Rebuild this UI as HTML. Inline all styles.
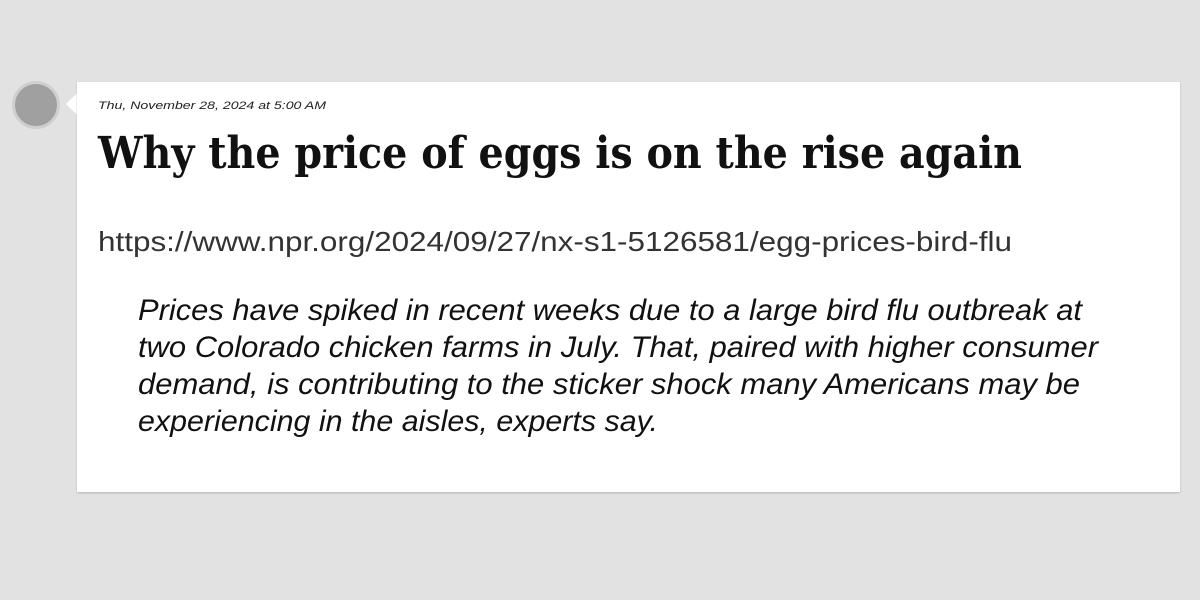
<!DOCTYPE html>
<html><head><meta charset="utf-8">
<style>
body{margin:0;width:1200px;height:600px;background:#e2e2e2;position:relative;overflow:hidden;font-family:"Liberation Sans",sans-serif}
.avatar{position:absolute;left:12px;top:81px;width:42px;height:42px;border-radius:50%;background:#a0a0a0;border:3px solid #cfcfcf}
.card{position:absolute;left:77px;top:82px;width:1103px;height:410px;background:#fff;box-shadow:0 1px 2px rgba(0,0,0,0.2)}
.notch{position:absolute;left:66px;top:93px;width:0;height:0;border-top:11px solid transparent;border-bottom:11px solid transparent;border-right:11px solid #fff}
.t{position:absolute;white-space:nowrap;transform-origin:0 0;line-height:1}
</style></head><body>
<div class="avatar"></div>
<div class="notch"></div>
<div class="card"></div>
<div class="t fit" data-w="228" style="left:98px;top:101px;font-size:11px;font-style:italic;color:#222">Thu, November 28, 2024 at 5:00 AM</div>
<div class="t fit" data-w="924" style="left:98px;top:132px;font-size:44px;font-weight:bold;font-family:'DejaVu Serif',serif;color:#111">Why the price of eggs is on the rise again</div>
<div class="t fit" data-w="914" style="left:98px;top:228px;font-size:28px;color:#333">https://www.npr.org/2024/09/27/nx-s1-5126581/egg-prices-bird-flu</div>
<div class="t fit" data-w="944" style="left:138px;top:296px;font-size:30px;font-style:italic;color:#111">Prices have spiked in recent weeks due to a large bird flu outbreak at</div>
<div class="t fit" data-w="960" style="left:138px;top:333px;font-size:30px;font-style:italic;color:#111">two Colorado chicken farms in July. That, paired with higher consumer</div>
<div class="t fit" data-w="942" style="left:138px;top:370px;font-size:30px;font-style:italic;color:#111">demand, is contributing to the sticker shock many Americans may be</div>
<div class="t fit" data-w="520" style="left:138px;top:407px;font-size:30px;font-style:italic;color:#111">experiencing in the aisles, experts say.</div>
<script>
document.querySelectorAll('.fit').forEach(function(el){
  var w=el.getBoundingClientRect().width;
  var target=+el.getAttribute('data-w');
  if(w>0) el.style.transform='scaleX('+(target/w)+')';
});
</script>
</body></html>
